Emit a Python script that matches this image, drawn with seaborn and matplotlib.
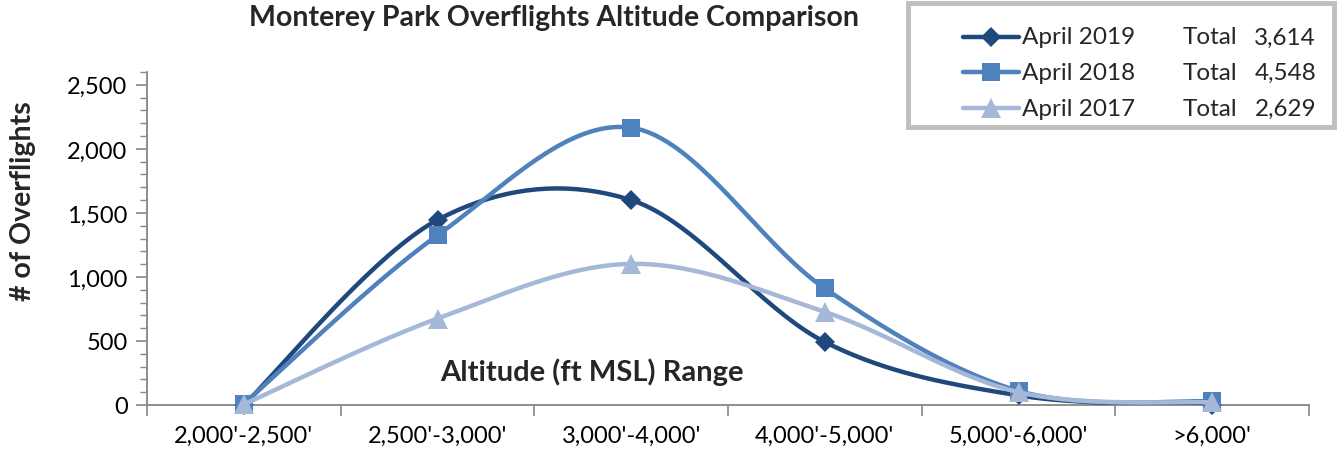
import numpy as np
import pandas as pd
import matplotlib
matplotlib.use("Agg")
import matplotlib.pyplot as plt
from matplotlib.patches import Rectangle
from matplotlib.lines import Line2D
from matplotlib.ticker import MultipleLocator, FixedLocator, NullFormatter
import seaborn as sns

# ---------------- data ----------------
categories = ["2,000'-2,500'", "2,500'-3,000'", "3,000'-4,000'",
              "4,000'-5,000'", "5,000'-6,000'", ">6,000'"]
apr2019 = [0, 1445, 1600, 492, 75, 2]
apr2018 = [10, 1325, 2165, 910, 110, 28]
apr2017 = [5, 675, 1102, 727, 100, 20]
series_names = ["April 2019", "April 2018", "April 2017"]
totals = ["3,614", "4,548", "2,629"]
yticks = [0, 500, 1000, 1500, 2000, 2500]

colors = ["#1F497D", "#4F81BD", "#A5B8D8"]
markers = ["D", "s", "^"]
msizes = [10.5, 13, 14]

sns.set_theme(style="white")
plt.rcParams['font.family'] = ['Lato', 'DejaVu Sans']

W, H = 1339, 456
fig = plt.figure(figsize=(W / 100, H / 100), dpi=100)
ax = fig.add_axes([147 / W, 1 - 406 / H, (1309 - 147) / W, (406 - 73) / H])


def smooth(xs, ys, n=40):
    """Excel-like smoothed line: cubic Bezier with Catmull-Rom control points."""
    xs = np.asarray(xs, float)
    ys = np.asarray(ys, float)
    P = np.column_stack([xs, ys])
    out = []
    m = len(P)
    for i in range(m - 1):
        p0 = P[i - 1] if i > 0 else P[i]
        p1 = P[i]
        p2 = P[i + 1]
        p3 = P[i + 2] if i + 2 < m else P[i + 1]
        c1 = p1 + (p2 - p0) / 6.0
        c2 = p2 - (p3 - p1) / 6.0
        t = np.linspace(0, 1, n)[:, None]
        seg = ((1 - t) ** 3) * p1 + 3 * ((1 - t) ** 2) * t * c1 + 3 * (1 - t) * t ** 2 * c2 + t ** 3 * p2
        out.append(seg if i == 0 else seg[1:])
    return np.vstack(out)


xpos = np.arange(len(categories))
all_series = [apr2019, apr2018, apr2017]
for idx in [0, 1, 2]:
    vals = all_series[idx]
    curve = smooth(xpos, vals)
    dfc = pd.DataFrame({"x": curve[:, 0], "y": curve[:, 1]})
    sns.lineplot(data=dfc, x="x", y="y", ax=ax, color=colors[idx], linewidth=3.2,
                 sort=False, estimator=None, zorder=3 + idx)
    dfp = pd.DataFrame({"x": xpos, "y": vals})
    ax.plot(dfp["x"], dfp["y"], linestyle="none", marker=markers[idx],
            markersize=msizes[idx], color=colors[idx], markeredgewidth=0,
            zorder=3 + idx, clip_on=False)

ax.set_xlim(-0.5, len(categories) - 0.5)
ax.set_ylim(0, 2600)

# x axis: ticks at category boundaries, labels at centers
ax.xaxis.set_major_locator(FixedLocator(np.arange(-0.5, len(categories), 1.0)))
ax.xaxis.set_major_formatter(NullFormatter())
ax.set_xticks(xpos, minor=True)
ax.set_xticklabels(categories, minor=True)
ax.tick_params(axis="x", which="major", length=8, width=1.2, color="#868686",
               direction="out", bottom=True)
ax.tick_params(axis="x", which="minor", length=0, pad=14, labelsize=17,
               labelcolor="black", bottom=True)

# y axis
ax.set_yticks(yticks)
ax.set_yticklabels([f"{v:,}" for v in yticks])
ax.yaxis.set_minor_locator(MultipleLocator(100))
ax.tick_params(axis="y", which="major", length=8, width=1.2, color="#868686",
               direction="out", left=True, labelsize=17, labelcolor="black", pad=6)
ax.tick_params(axis="y", which="minor", length=5, width=1.0, color="#868686",
               direction="out", left=True)

for s in ["top", "right"]:
    ax.spines[s].set_visible(False)
for s in ["left", "bottom"]:
    ax.spines[s].set_color("#868686")
    ax.spines[s].set_linewidth(1.3)

ax.set_xlabel("")
ax.set_ylabel("")
ax.grid(False)

fig.text(23 / W, 1 - 201 / H, "# of Overflights", rotation=90,
         fontsize=20.5, fontweight="bold", ha="center", va="center")

fig.text(440 / W, 1 - 372 / H, "Altitude (ft MSL) Range",
         fontsize=21, fontweight="bold", ha="left", va="center")

fig.text(554 / W, 1 - 18 / H, "Monterey Park Overflights Altitude Comparison",
         fontsize=20.5, fontweight="bold", ha="center", va="center")

# legend box
fig.patches.append(Rectangle((908 / W, 1 - 128 / H), (1334 - 908) / W, (128 - 4) / H,
                             transform=fig.transFigure, facecolor="white",
                             edgecolor="#BFBFBF", linewidth=3.5, zorder=0))
rows_y = [38, 73, 109]
for i in range(3):
    yy = 1 - rows_y[i] / H
    fig.add_artist(Line2D([963 / W, 1019 / W], [yy, yy], transform=fig.transFigure,
                          color=colors[i], linewidth=3.2, solid_capstyle="round"))
    fig.add_artist(Line2D([991 / W], [yy], transform=fig.transFigure,
                          color=colors[i], marker=markers[i], markersize=msizes[i],
                          markeredgewidth=0, linestyle="none"))
    fig.text(1022 / W, yy, series_names[i], fontsize=17.5, ha="left", va="center")
    fig.text(1183 / W, yy, "Total", fontsize=17.5, ha="left", va="center")
    fig.text(1316 / W, yy, totals[i], fontsize=17.5, ha="right", va="center")

fig.savefig("out.png", dpi=100)
